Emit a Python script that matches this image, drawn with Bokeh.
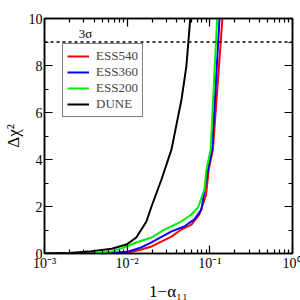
from bokeh.plotting import figure
from bokeh.models import (FixedTicker, LinearAxis, LogAxis, Span, Label, Legend, LegendItem, Range1d)
from bokeh.embed import file_html
from bokeh.resources import INLINE

x_dune = [0.001, 0.002, 0.0034, 0.0065, 0.0098, 0.0129, 0.0171, 0.0197, 0.026, 0.0344, 0.0454, 0.052, 0.058]
y_dune = [0, 0.02, 0.08, 0.2, 0.38, 0.68, 1.36, 2.0, 3.15, 4.43, 6.55, 7.96, 10]

x_ess200 = [0.001, 0.004, 0.0065, 0.0093, 0.0129, 0.0197, 0.0282, 0.045, 0.06, 0.072, 0.086, 0.091, 0.1025, 0.1225]
y_ess200 = [0, 0.01, 0.09, 0.26, 0.47, 0.68, 1.02, 1.36, 1.66, 1.96, 2.72, 3.57, 4.43, 10]

x_ess360 = [0.001, 0.006, 0.0104, 0.0148, 0.0197, 0.0344, 0.049, 0.065, 0.079, 0.095, 0.1066, 0.131]
y_ess360 = [0, 0.01, 0.085, 0.26, 0.47, 0.94, 1.15, 1.45, 1.87, 3.57, 4.43, 10]

x_ess540 = [0.001, 0.007, 0.0104, 0.0148, 0.0197, 0.0344, 0.045, 0.06, 0.0748, 0.09, 0.097, 0.109, 0.142]
y_ess540 = [0, 0.01, 0.04, 0.17, 0.3, 0.72, 1.02, 1.23, 1.66, 2.5, 3.57, 4.43, 10]

x_ticks = [0.001, 0.01, 0.1, 1]
x_tick_labels = ["10\u207b\u00b3", "10\u207b\u00b2", "10\u207b\u00b9", "10\u2070"]
x_minor = [m * d for d in [0.001, 0.01, 0.1] for m in range(2, 10)]
y_ticks = [0, 2, 4, 6, 8, 10]
y_minor = [1, 3, 5, 7, 9]
sigma_level = 9

FONT = "Liberation Serif"

p = figure(frame_width=248, frame_height=235, x_axis_type="log",
           x_range=Range1d(1e-3, 1), y_range=Range1d(0, 10),
           output_backend="svg", toolbar_location=None,
           min_border_left=35, min_border_right=9, min_border_top=18, min_border_bottom=31)
p.background_fill_color = "white"
p.border_fill_color = "white"
p.outline_line_color = "black"
p.outline_line_width = 1.5
p.xgrid.visible = False
p.ygrid.visible = False

xt = FixedTicker(ticks=x_ticks, minor_ticks=x_minor)
yt = FixedTicker(ticks=y_ticks, minor_ticks=y_minor)

def style(ax, labels=True):
    ax.major_tick_in = 8
    ax.major_tick_out = 0
    ax.minor_tick_in = 4
    ax.minor_tick_out = 0
    ax.axis_line_color = "black"
    ax.axis_line_width = 1.5
    ax.major_tick_line_color = "black"
    ax.minor_tick_line_color = "black"
    ax.major_tick_line_width = 1.2
    ax.minor_tick_line_width = 1.2
    ax.major_label_text_font = FONT
    if labels:
        ax.major_label_text_font_size = "14px"
        ax.major_label_text_color = "black"
        ax.major_label_standoff = 2
    else:
        ax.major_label_text_font_size = "1px"
        ax.major_label_text_alpha = 0
        ax.major_label_standoff = 0

p.xaxis.ticker = xt
p.xaxis.major_label_overrides = dict(zip(x_ticks, x_tick_labels))
p.yaxis.ticker = yt
style(p.xaxis[0])
style(p.yaxis[0])
p.xaxis.axis_label = "1\u2212\u03b1\u2081\u2081"
p.yaxis.axis_label = "\u0394\u03c7\u00b2"
for ax in (p.xaxis[0], p.yaxis[0]):
    ax.axis_label_text_font = FONT
    ax.axis_label_text_font_size = "17px"
    ax.axis_label_text_font_style = "normal"
    ax.axis_label_text_color = "black"
p.xaxis.axis_label_standoff = 8
p.yaxis.axis_label_standoff = 3

top = LogAxis(ticker=xt)
style(top, labels=False)
p.add_layout(top, "above")
right = LinearAxis(ticker=yt)
style(right, labels=False)
p.add_layout(right, "right")

p.add_layout(Span(location=sigma_level, dimension="width", line_color="black",
                  line_width=1.3, line_dash="3 3"))
p.add_layout(Label(x=0.0026, y=9.05, text="3\u03c3", text_font=FONT,
                   text_font_size="13px", text_color="black", text_baseline="bottom"))

r540 = p.line(x_ess540, y_ess540, line_color="red", line_width=2)
r360 = p.line(x_ess360, y_ess360, line_color="blue", line_width=2)
r200 = p.line(x_ess200, y_ess200, line_color="#00ee00", line_width=2)
rdune = p.line(x_dune, y_dune, line_color="black", line_width=2)

legend = Legend(items=[LegendItem(label="ESS540", renderers=[r540]),
                       LegendItem(label="ESS360", renderers=[r360]),
                       LegendItem(label="ESS200", renderers=[r200]),
                       LegendItem(label="DUNE", renderers=[rdune])],
                location=(18, 136))
legend.label_text_font = FONT
legend.label_text_font_size = "13px"
legend.border_line_color = "black"
legend.border_line_width = 1.5
legend.glyph_width = 22
legend.glyph_height = 14
legend.label_height = 14
legend.spacing = 0
legend.padding = 4
legend.margin = 0
legend.label_standoff = 7
legend.background_fill_alpha = 1
p.add_layout(legend, "center")

open("out.html", "w").write(file_html(p, INLINE))
